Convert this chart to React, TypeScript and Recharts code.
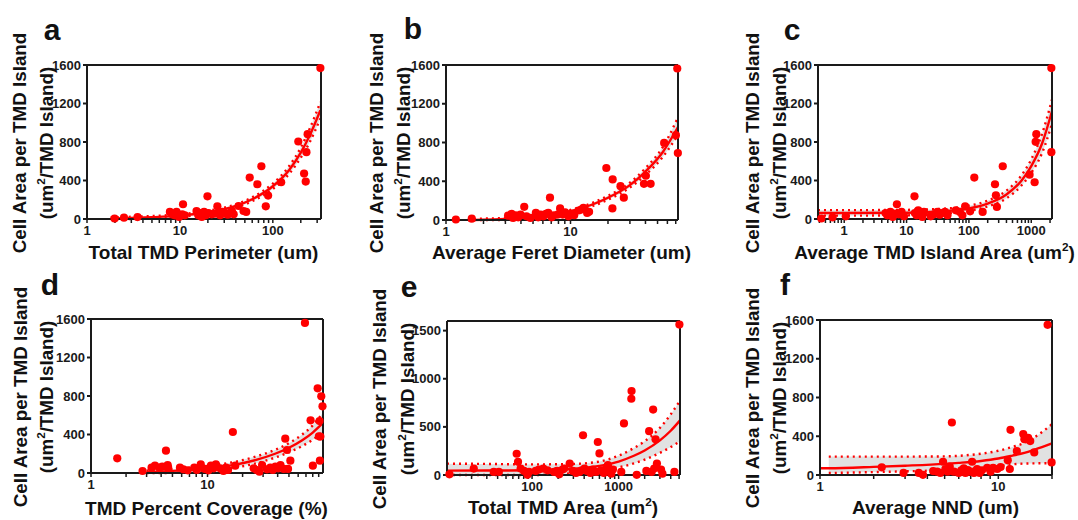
import React from "react";
import { ComposedChart, Scatter, Line, Area, XAxis, YAxis } from "recharts";

const RED = "#ff0000";
const INK = "#1a1a1a";
const FONT = "Arial, 'Liberation Sans', Helvetica, sans-serif";

// ---- a: Total TMD Perimeter (um)
const aPoints: [number, number][] = [
  [1.98, 5], [2.5, 14], [3.5, 20], [7.8, 73], [8.3, 48], [8.8, 38], [9.2, 73], [9.8, 21],
  [10.6, 49], [10.8, 153], [11.3, 38], [15.1, 83], [15.8, 38], [16.5, 62], [17.2, 21],
  [18.2, 73], [19.0, 38], [19.8, 236], [20.3, 62], [22, 49], [23.9, 55], [25.3, 132],
  [27.1, 38], [28.8, 73], [30.6, 55], [32.7, 45], [34.8, 62], [36.3, 83], [37.9, 49],
  [42.8, 135], [48.4, 83], [51.7, 73], [56.4, 430], [68.2, 361], [75.3, 548], [84, 132],
  [89, 243], [123, 382], [188, 805], [217, 472], [226, 389], [230, 694], [237, 881], [325, 1568],
];
const aFitX = [1.8, 3, 5, 10, 20, 40, 60, 100, 150, 200, 250, 325];
const aFit = [5, 10, 18, 35, 70, 135, 205, 340, 510, 690, 870, 1130];
const aLo = [0, 0, 5, 22, 55, 118, 185, 312, 470, 638, 800, 1045];
const aHi = [18, 23, 31, 48, 85, 152, 225, 368, 550, 742, 940, 1215];

// ---- b: Average Feret Diameter (um)
const bPoints: [number, number][] = [
  [1.2, 5], [1.61, 14], [3.15, 45], [3.36, 63], [3.46, 21], [3.63, 49], [3.8, 28], [3.97, 56],
  [4.25, 136], [4.43, 38], [4.77, 21], [5.27, 73], [5.5, 28], [5.76, 56], [6.05, 38],
  [6.35, 63], [6.63, 73], [6.84, 230], [7.06, 28], [7.37, 49], [7.9, 56], [8.25, 119],
  [8.66, 56], [9.05, 80], [9.63, 38], [10.2, 63], [10.7, 49], [11.6, 98], [12.2, 108],
  [12.7, 126], [13.6, 73], [14.1, 84], [19.4, 537], [21.7, 119], [21.8, 419], [25.2, 349],
  [26.8, 230], [38.9, 373], [40.3, 457], [44, 373], [56.5, 796], [70.2, 876], [72, 1564], [72.8, 691],
];
const bFitX = [1.5, 2, 3, 5, 7, 10, 15, 20, 30, 40, 55, 73];
const bFit = [0, 2, 10, 28, 50, 90, 160, 230, 360, 500, 700, 960];
const bLo = [0, 0, 0, 14, 36, 75, 143, 210, 335, 465, 650, 880];
const bHi = [10, 14, 22, 42, 64, 105, 177, 250, 385, 535, 750, 1060];

// ---- c: Average TMD Island Area (um2)
const cPoints: [number, number][] = [
  [0.43, 5], [0.65, 17], [1.06, 28], [4.6, 62], [4.9, 38], [5.5, 73], [6.0, 21], [6.6, 55],
  [7.0, 153], [7.5, 49], [8.3, 73], [9.1, 28], [13.4, 236], [13.6, 62], [14.5, 38], [15.4, 90],
  [16.8, 55], [17.9, 21], [19, 73], [24.4, 28], [27.6, 49], [31.2, 73], [34, 45], [37.5, 62],
  [41.3, 73], [45.3, 38], [61.6, 90], [71.4, 73], [78.6, 38], [87, 132], [104.5, 80],
  [122, 430], [166, 73], [262, 361], [271, 246], [281, 125], [349, 548], [940, 461],
  [1132, 382], [1175, 802], [1205, 881], [2100, 694], [2100, 1568],
];
const cFitX = [0.38, 1, 10, 50, 100, 200, 400, 700, 1000, 1500, 2150];
const cFit = [62, 62, 65, 85, 110, 160, 255, 400, 550, 790, 1120];
const cLo = [35, 35, 38, 60, 85, 130, 215, 350, 480, 690, 990];
const cHi = [92, 92, 95, 112, 138, 190, 295, 455, 620, 890, 1240];

// ---- d: TMD Percent Coverage (%)
const dPoints: [number, number][] = [
  [1.68, 152], [2.77, 21], [3.31, 55], [3.54, 76], [3.86, 55], [4.09, 66], [4.4, 232],
  [4.55, 83], [4.6, 55], [5.8, 55], [6.2, 38], [6.76, 28], [7.7, 55], [8.1, 31], [8.75, 90],
  [9.5, 42], [10.2, 28], [10.7, 76], [11.3, 49], [11.8, 90], [12.8, 49], [13.7, 21],
  [14.4, 55], [15, 31], [16.5, 426], [17.3, 76], [24.9, 49], [26.5, 31], [27.9, 14],
  [29.4, 83], [32.4, 38], [34.6, 55], [36.3, 31], [38.3, 66], [40.4, 49], [42.3, 83],
  [45.1, 42], [46.5, 357], [48.1, 239], [49.1, 42], [51.4, 128], [68.6, 1559], [76.7, 547],
  [80.2, 76], [88.2, 880], [90.4, 381], [91.5, 540], [92.1, 128], [93, 378], [94.7, 797], [97, 693],
];
const dFitX = [3, 4, 6, 10, 17, 25, 38, 50, 65, 80, 97];
const dFit = [8, 16, 27, 48, 85, 130, 200, 262, 340, 420, 515];
const dLo = [0, 0, 5, 22, 55, 95, 160, 215, 280, 345, 420];
const dHi = [25, 32, 48, 74, 115, 165, 240, 310, 400, 495, 620];

// ---- e: Total TMD Area (um2)
const ePoints: [number, number][] = [
  [11.1, 7], [21.2, 67], [36.1, 32], [41.3, 32], [66.4, 221], [68.8, 137], [73.8, 67],
  [80.7, 42], [88.3, 2], [92.2, 32], [110, 42], [120, 56], [135, 67], [151, 49], [180, 32],
  [194, 42], [206, 7], [225, 56], [235, 67], [272, 119], [295, 42], [322, 21], [352, 32],
  [374, 49], [388, 413], [403, 67], [432, 42], [472, 21], [503, 56], [550, 32], [575, 343],
  [601, 224], [627, 49], [674, 21], [718, 67], [752, 102], [786, 42], [822, 14], [859, 56],
  [1073, 32], [1153, 536], [1402, 792], [1411, 872], [1620, 2], [2093, 42], [2253, 455],
  [2404, 32], [2506, 680], [2576, 67], [2672, 371], [2772, 119], [3091, 56], [3207, 14],
  [4410, 32], [5040, 1563],
];
const eFitX = [10.4, 30, 100, 300, 600, 1000, 1500, 2000, 3000, 4000, 5100];
const eFit = [45, 46, 50, 65, 95, 140, 200, 255, 360, 460, 565];
const eLo = [0, 0, 0, 20, 50, 80, 120, 160, 230, 290, 350];
const eHi = [118, 115, 110, 115, 140, 200, 280, 350, 490, 630, 770];

// ---- f: Average NND (um)
const fPoints: [number, number][] = [
  [2.22, 79], [2.94, 21], [3.58, 21], [3.78, 2], [4.31, 41], [4.54, 34], [4.73, 21], [4.9, 137],
  [5.05, 62], [5.2, 34], [5.34, 86], [5.49, 542], [5.63, 34], [6.0, 21], [6.2, 48], [6.4, 69],
  [6.54, 21], [6.75, 51], [6.98, 34], [7.13, 137], [7.3, 21], [7.6, 62], [7.86, 21], [8.1, 48],
  [8.66, 75], [9.05, 34], [9.35, 75], [9.87, 62], [10.3, 82], [11.3, 151], [11.6, 62],
  [11.7, 466], [12.7, 247], [13.8, 422], [14.0, 370], [14.7, 384], [15.1, 350], [15.9, 233],
  [18.9, 1550], [19.9, 130],
];
const fFitX = [1, 1.12, 2, 3, 5, 6, 8, 10, 12, 14, 16, 20];
const fFit = [69, 70, 84, 96, 115, 125, 145, 170, 200, 228, 262, 326];
const fLo = [null, 20, 30, 38, 50, 58, 72, 90, 110, 118, 120, 122];
const fHi = [null, 190, 190, 190, 192, 198, 220, 250, 290, 330, 390, 525];

const yTicks1600 = [0, 400, 800, 1200, 1600];
const yTicks1500 = [0, 500, 1000, 1500];

const logTicks = (lo: number, hi: number) => {
  const out: number[] = [];
  for (let d = Math.pow(10, Math.floor(Math.log10(lo))); d <= hi; d *= 10) {
    for (let m = 1; m < 10; m++) {
      const v = +(m * d).toPrecision(3);
      if (v >= lo && v <= hi) out.push(v);
    }
  }
  return out;
};

const Um2 = () => (
  <span>
    um<sup style={{ fontSize: "0.62em", lineHeight: 0 }}>2</sup>
  </span>
);

interface PanelProps {
  letter: string;
  xLabel: React.ReactNode;
  points: [number, number][];
  fitX: number[];
  fit: number[];
  lo: (number | null)[];
  hi: (number | null)[];
  xDomain: [number, number];
  xMajor: number[];
  yTicks: number[];
  plot: [number, number, number, number]; // left, top, right, bottom
  yLabelX: [number, number];
  letterPos: [number, number];
  xLabelY: number;
}

const YW = 45;
const MT = 8;
const MR = 8;
const XH = 28;

const Panel: React.FC<PanelProps> = ({
  letter, xLabel, points, fitX, fit, lo, hi, xDomain, xMajor, yTicks, plot, yLabelX, letterPos, xLabelY,
}) => {
  const [L, T, R, B] = plot;
  const rows = fitX.map((x, i) => ({
    x,
    fit: fit[i],
    lo: lo[i],
    hi: hi[i],
    band: lo[i] != null && hi[i] != null ? [lo[i], hi[i]] : null,
  }));
  const pts = points.map(([x, y]) => ({ x, y }));
  const ticks = logTicks(xDomain[0], xDomain[1]);
  const yMax = 1600;
  const axisLine = { stroke: INK, strokeWidth: 2 };
  const tickStyle = { fontSize: 13, fontWeight: 700, fill: INK, fontFamily: FONT };
  const cy = (T + B) / 2;

  return (
    <>
      <div style={{ position: "absolute", left: letterPos[0], top: letterPos[1], transform: "translate(-50%,-50%)", fontSize: 30, fontWeight: 700, lineHeight: 1, color: "#111" }}>
        {letter}
      </div>
      <div style={{ position: "absolute", left: yLabelX[0], top: cy, transform: "translate(-50%,-50%) rotate(-90deg)", fontSize: 18.8, fontWeight: 700, whiteSpace: "nowrap", lineHeight: 1, color: "#111" }}>
        Cell Area per TMD Island
      </div>
      <div style={{ position: "absolute", left: yLabelX[1], top: cy, transform: "translate(-50%,-50%) rotate(-90deg)", fontSize: 18.8, fontWeight: 700, whiteSpace: "nowrap", lineHeight: 1, color: "#111" }}>
        (<Um2 />/TMD Island)
      </div>
      <div style={{ position: "absolute", left: (L + R) / 2, top: xLabelY, transform: "translate(-50%,-50%)", fontSize: 19, fontWeight: 700, whiteSpace: "nowrap", lineHeight: 1, color: "#111" }}>
        {xLabel}
      </div>
      <div style={{ position: "absolute", left: L - YW, top: T - MT - 1 }}>
        <ComposedChart
          width={YW + (R - L) + 1 + MR}
          height={MT + 1 + (B - T) + XH}
          data={rows}
          margin={{ top: MT, right: MR, bottom: 0, left: 0 }}
        >
          <XAxis
            xAxisId="b"
            dataKey="x"
            type="number"
            scale="log"
            domain={xDomain}
            ticks={ticks}
            interval={0}
            tickFormatter={(v: number) => (xMajor.includes(v) ? String(v) : "")}
            height={XH}
            axisLine={axisLine}
            tickLine={{ stroke: INK, strokeWidth: 1.5 }}
            tickSize={4}
            tickMargin={3}
            fontSize={13}
            fontWeight={700}
            fontFamily={FONT}
            stroke={INK}
            tick={tickStyle}
          />
          <XAxis
            xAxisId="t"
            orientation="top"
            type="number"
            scale="log"
            domain={xDomain}
            allowDataOverflow
            ticks={ticks}
            interval={0}
            height={1}
            mirror
            tick={false}
            tickSize={3}
            axisLine={axisLine}
            tickLine={{ stroke: INK, strokeWidth: 1.5 }}
          />
          <YAxis
            yAxisId="l"
            type="number"
            domain={[0, yMax]}
            ticks={yTicks}
            interval={0}
            width={YW}
            axisLine={axisLine}
            tickLine={{ stroke: INK, strokeWidth: 2 }}
            tickSize={4}
            tickMargin={2}
            fontSize={13}
            fontWeight={700}
            fontFamily={FONT}
            stroke={INK}
            tick={tickStyle}
          />
          <YAxis
            yAxisId="r"
            orientation="right"
            type="number"
            domain={[0, yMax]}
            allowDataOverflow
            ticks={yTicks}
            interval={0}
            width={1}
            mirror
            tick={false}
            tickSize={3}
            axisLine={axisLine}
            tickLine={{ stroke: INK, strokeWidth: 1.5 }}
          />
          <Area
            xAxisId="b"
            yAxisId="l"
            dataKey="band"
            type="monotone"
            stroke="none"
            fill="#c8c8c8"
            fillOpacity={0.55}
            isAnimationActive={false}
          />
          <Line xAxisId="b" yAxisId="l" dataKey="lo" type="monotone" stroke={RED} strokeWidth={2.4} strokeDasharray="2 4" dot={false} isAnimationActive={false} />
          <Line xAxisId="b" yAxisId="l" dataKey="hi" type="monotone" stroke={RED} strokeWidth={2.4} strokeDasharray="2 4" dot={false} isAnimationActive={false} />
          <Line xAxisId="b" yAxisId="l" dataKey="fit" type="monotone" stroke={RED} strokeWidth={2.4} dot={false} isAnimationActive={false} />
          <Scatter
            xAxisId="b"
            yAxisId="l"
            data={pts}
            dataKey="y"
            fill={RED}
            isAnimationActive={false}
            shape={(p: any) => <circle cx={p.cx} cy={p.cy} r={4.1} fill={RED} />}
          />
        </ComposedChart>
      </div>
    </>
  );
};

export default function App() {
  return (
    <div style={{ position: "absolute", left: 0, top: 0, width: 1078, height: 520, background: "#fff", fontFamily: FONT, overflow: "hidden" }}>
      <Panel letter="a" xLabel="Total TMD Perimeter (um)" points={aPoints} fitX={aFitX} fit={aFit} lo={aLo} hi={aHi}
        xDomain={[1, 330]} xMajor={[1, 10, 100]} yTicks={yTicks1600} plot={[87, 66, 320, 219]}
        yLabelX={[20, 47]} letterPos={[52, 30]} xLabelY={252} />
      <Panel letter="b" xLabel="Average Feret Diameter (um)" points={bPoints} fitX={bFitX} fit={bFit} lo={bLo} hi={bHi}
        xDomain={[1, 73]} xMajor={[1, 10]} yTicks={yTicks1600} plot={[446, 66, 677, 220]}
        yLabelX={[377, 404]} letterPos={[413, 29]} xLabelY={252} />
      <Panel letter="c" xLabel={<span>Average TMD Island Area (<Um2 />)</span>} points={cPoints} fitX={cFitX} fit={cFit} lo={cLo} hi={cHi}
        xDomain={[0.38, 2150]} xMajor={[1, 10, 100, 1000]} yTicks={yTicks1600} plot={[818, 66, 1051, 219]}
        yLabelX={[753, 780]} letterPos={[792, 30]} xLabelY={252} />
      <Panel letter="d" xLabel="TMD Percent Coverage (%)" points={dPoints} fitX={dFitX} fit={dFit} lo={dLo} hi={dHi}
        xDomain={[1, 98]} xMajor={[1, 10]} yTicks={yTicks1600} plot={[91, 320, 322, 473]}
        yLabelX={[21, 47]} letterPos={[50, 285]} xLabelY={508} />
      <Panel letter="e" xLabel={<span>Total TMD Area (<Um2 />)</span>} points={ePoints} fitX={eFitX} fit={eFit} lo={eLo} hi={eHi}
        xDomain={[10.4, 5120]} xMajor={[100, 1000]} yTicks={yTicks1500} plot={[447, 322, 679, 475]}
        yLabelX={[380, 408]} letterPos={[409, 287]} xLabelY={507} />
      <Panel letter="f" xLabel="Average NND (um)" points={fPoints} fitX={fFitX} fit={fFit} lo={fLo} hi={fHi}
        xDomain={[1, 20]} xMajor={[1, 10]} yTicks={yTicks1600} plot={[820, 321, 1051, 475]}
        yLabelX={[753, 780]} letterPos={[785, 285]} xLabelY={507} />
    </div>
  );
}
